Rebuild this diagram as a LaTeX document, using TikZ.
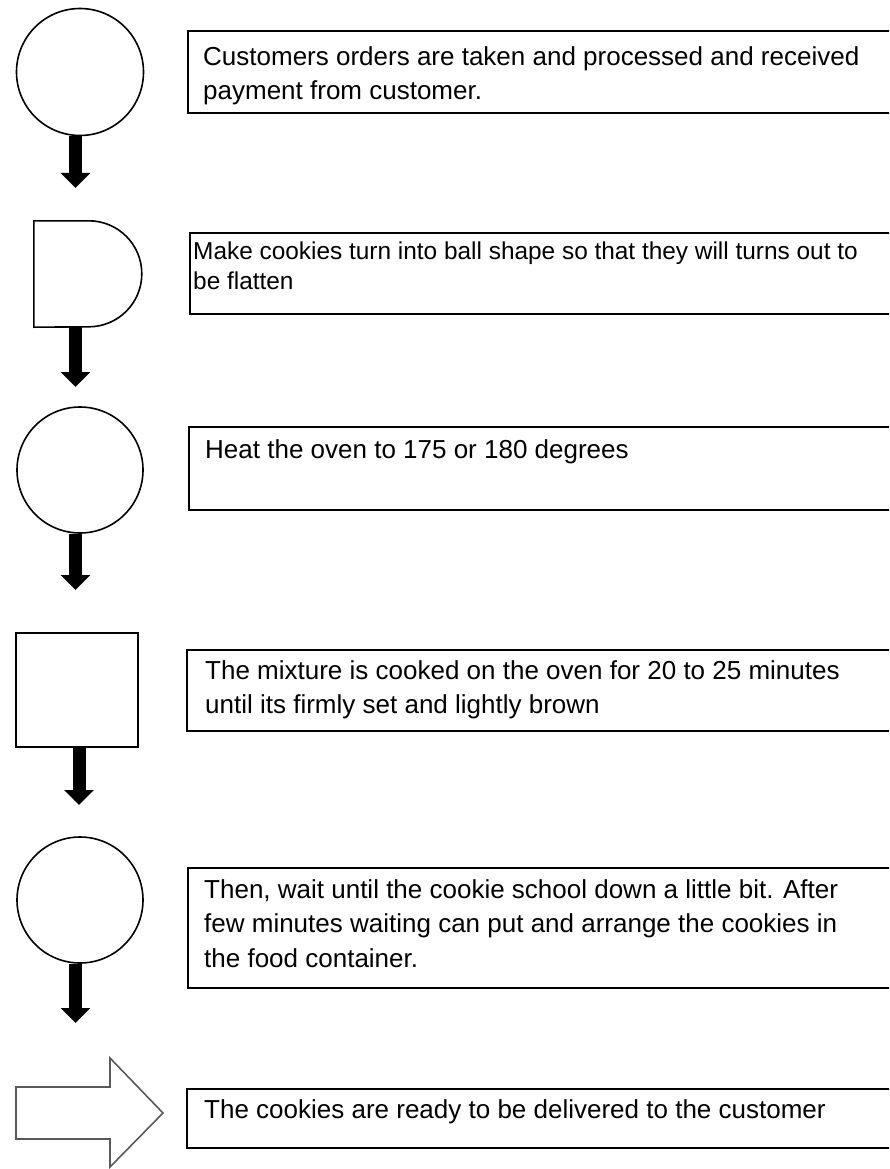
\documentclass[tikz,border=0pt]{standalone}
\usepackage{fontspec}
\setmainfont{Liberation Sans}
\usetikzlibrary{arrows.meta, calc, positioning}
\tikzset{
  outline/.style={draw, line width=1.6pt, inner sep=0pt}, % every shape on the left
  stepbox/.style={draw, line width=1.6pt, inner sep=0pt, anchor=north west,
    minimum width=720pt}, % the boxes run off the right edge
  steptext/.style={anchor=north west, align=left, inner sep=0pt,
    font=\fontsize{26}{34.5}\selectfont},
  flow/.style={line width=13pt, -{Triangle[width=29pt,length=15pt]}}, % short fat arrows
}
\begin{document}
\begin{tikzpicture}[x=1pt,y=-1pt]
    \useasboundingbox (0,0) rectangle (889,1169);
    \clip (0,0) rectangle (889,1169);

    % shapes on the left
    \node[outline, circle, minimum size=127] (s1) at (80,72) {};
    \node[inner sep=0pt, minimum width=108, minimum height=106] (s2) at (88,274) {};
    \draw[line width=1.6pt] (s2.north west) -- ++(55,0)
      arc[start angle=-90, end angle=90, radius=53] -- (s2.south west) -- cycle;
    \node[outline, circle, minimum size=126] (s3) at (80,470) {};
    \node[outline, minimum width=122, minimum height=114] (s4) at (77,690) {};
    \node[outline, circle, minimum size=126] (s5) at (80,900) {};
    \draw[line width=1.6pt, draw=black!65] (16,1087) -- (110,1087) -- (110,1058)
      -- (163,1113) -- (110,1167) -- (110,1139) -- (16,1139) -- cycle;

    % arrows
    \coordinate (a1) at (75.5,188);
    \coordinate (a2) at (75.5,387);
    \coordinate (a3) at (75.5,590);
    \coordinate (a4) at (79,805);
    \coordinate (a5) at (75.5,1023);
    \draw[flow] (s1.south -| a1) -- (a1);
    \draw[flow] (s2.south -| a2) -- (a2);
    \draw[flow] (s3.south -| a3) -- (a3);
    \draw[flow] (s4.south -| a4) -- (a4);
    \draw[flow] (s5.south -| a5) -- (a5);

    % boxes
    \node[stepbox, minimum height=82] (b1) at (187,30) {};
    \node[stepbox, minimum height=81] (b2) at (189,232) {};
    \node[stepbox, minimum height=83] (b3) at (188,426) {};
    \node[stepbox, minimum height=81] (b4) at (186,649) {};
    \node[stepbox, minimum height=120] (b5) at (187,867) {};
    \node[stepbox, minimum height=59] (b6) at (186,1088) {};

    \node[steptext] (t1) at ($(b1.north west)+(16,16)$) {Customers orders are taken and processed and received\\
    payment from customer.};
    \node[steptext, font=\fontsize{24.4}{30}\selectfont] (t2) at ($(b2.north west)+(4,10)$) {Make cookies turn into ball shape so that they will turns out to\\
    be flatten};
    \node[steptext] (t3) at ($(b3.north west)+(17,13)$) {Heat the oven to 175 or 180 degrees};
    \node[steptext] (t4) at ($(b4.north west)+(19,11)$) {The mixture is cooked on the oven for 20 to 25 minutes\\
    until its firmly set and lightly brown};
    \node[steptext] (t5) at ($(b5.north west)+(17,12)$) {Then, wait until the cookie school down a little bit. After\\
    few minutes waiting can put and arrange the cookies in\\
    the food container.};
    \node[steptext] (t6) at ($(b6.north west)+(18,11)$) {The cookies are ready to be delivered to the customer};
\end{tikzpicture}
\end{document}
